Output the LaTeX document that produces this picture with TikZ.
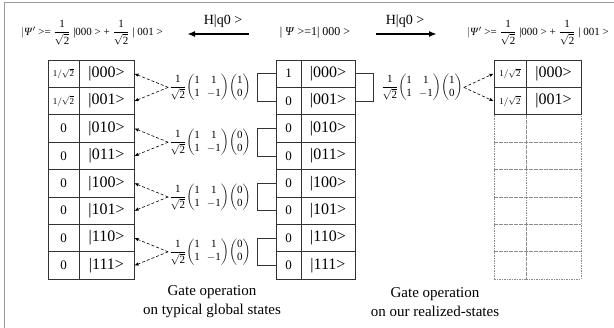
\documentclass[tikz,border=0pt]{standalone}
\usepackage{amsmath}
\usepackage{fontspec}
\setmainfont{Liberation Serif}
\usetikzlibrary{arrows.meta}
\newcommand{\dg}[1]{\text{#1}}
\newcommand{\Hmat}[2]{\setlength\arraycolsep{3.5pt}$\dfrac{\dg{1}}{\sqrt{\dg{2}}}\!\begin{pmatrix}\dg{1}&\dg{1}\\\dg{1}&-\dg{1}\end{pmatrix}\!\begin{pmatrix}\dg{#1}\\\dg{#2}\end{pmatrix}$}
\tikzset{
 cell/.style={draw=black!80, line width=0.9pt, minimum height=27.4pt, inner sep=0pt},
 ghost/.style={draw=black!45, dash pattern=on 1.5pt off 1pt, line width=0.6pt, minimum height=27.4pt, inner sep=0pt},
 st/.style={font=\fontsize{16}{16}\selectfont},
 mat/.style={inner sep=1pt, font=\fontsize{11}{13}\selectfont},
 dasharr/.style={dash pattern=on 3pt off 2pt, -{Latex[length=4pt,width=3.5pt]}, line width=0.6pt},
 bigarr/.style={-{Latex[length=8pt,width=6pt]}, line width=2pt},
 br/.style={line width=0.6pt, draw=black!80},
 lab/.style={font=\fontsize{11}{11}\selectfont},
}
\begin{document}
\begin{tikzpicture}[x=1pt,y=-1pt]
\useasboundingbox (0,0) rectangle (614,328);
\draw[black!40, line width=1pt] (4,330) -- (4,3) -- (616,3);
% top labels
\node[lab] (psiL) at (92,33) {$|$\textit{Ψ}$'$ >= $\dfrac{\dg{1}}{\sqrt{\dg{2}}}$ |000 > + $\dfrac{\dg{1}}{\sqrt{\dg{2}}}$ | 001 >};
\node[font=\fontsize{12}{12}\selectfont] (psiM) at (315,33) {| \textit{Ψ} >=1| 000 >};
\node[lab] (psiR) at (538,33) {$|$\textit{Ψ}$'$ >= $\dfrac{\dg{1}}{\sqrt{\dg{2}}}$ |000 > + $\dfrac{\dg{1}}{\sqrt{\dg{2}}}$ | 001 >};
\node[font=\fontsize{14}{14}\selectfont] (hL) at (223,21) {H|q0 >};
\node[font=\fontsize{14}{14}\selectfont] (hR) at (405,21) {H|q0 >};
\coordinate (aL1) at (249,34); \coordinate (aL2) at (187,34);
\coordinate (aR1) at (376,34); \coordinate (aR2) at (437,34);
\draw[bigarr] (aL1) -- (aL2);
\draw[bigarr] (aR1) -- (aR2);
% right ghost table
\foreach \n in {2,...,7}{
  \node[ghost, minimum width=32pt] (Ra\n) at (510, 73.7+27.4*\n) {};
  \node[ghost, minimum width=55pt] (Rs\n) at (553.5, 73.7+27.4*\n) {};
}
% tables
\foreach \s [count=\n from 0] in {000,001,010,011,100,101,110,111}{
  \node[cell, minimum width=55pt, st] (Ls\n) at (106.5, 73.7+27.4*\n) {|\s>};
  \node[cell, minimum width=31pt] (La\n) at (63.5, 73.7+27.4*\n)
    {\ifnum\n<2 \fontsize{9}{9}\selectfont$\dg{1}/\sqrt{\dg{2}}$\else\fontsize{13}{13}\selectfont 0\fi};
  \node[cell, minimum width=54pt, st] (Ms\n) at (328, 73.7+27.4*\n) {|\s>};
  \node[cell, minimum width=25pt, font=\fontsize{13}{13}\selectfont] (Ma\n) at (288.5, 73.7+27.4*\n)
    {\ifnum\n=0 1\else 0\fi};
}
\foreach \s [count=\n from 0] in {000,001}{
  \node[cell, minimum width=32pt, font=\fontsize{9}{9}\selectfont] (Ra\n) at (510, 73.7+27.4*\n) {$\dg{1}/\sqrt{\dg{2}}$};
  \node[cell, minimum width=55pt, st] (Rs\n) at (553.5, 73.7+27.4*\n) {|\s>};
}
% gate matrices and arrows
\foreach \k/\a/\b in {0/1/0,1/0/0,2/0/0,3/0/0}{
  \node[mat] (H\k) at (210, 87.4+54.8*\k) {\Hmat{\a}{\b}};
  \pgfmathtruncatemacro{\ra}{2*\k}
  \pgfmathtruncatemacro{\rb}{2*\k+1}
  \draw[dasharr] (H\k.west) -- (Ls\ra.east);
  \draw[dasharr] (H\k.west) -- (Ls\rb.east);
  \draw[br] (Ma\ra.west) -- ++(-18,0) |- (Ma\rb.west);
}
\node[mat] (HR) at (422, 87.4) {\Hmat{1}{0}};
\draw[dasharr] (HR.east) -- (Ra0.west);
\draw[dasharr] (HR.east) -- (Ra1.west);
\draw[br] (Ms0.east) -- ++(18,0) |- (Ms1.east);
% captions
\node[align=center, font=\fontsize{15}{19}\selectfont] (capL) at (212,302) {Gate operation\\on typical global states};
\node[align=center, font=\fontsize{15}{19}\selectfont] (capR) at (435,302) {Gate operation\\on our realized-states};
\end{tikzpicture}
\end{document}
